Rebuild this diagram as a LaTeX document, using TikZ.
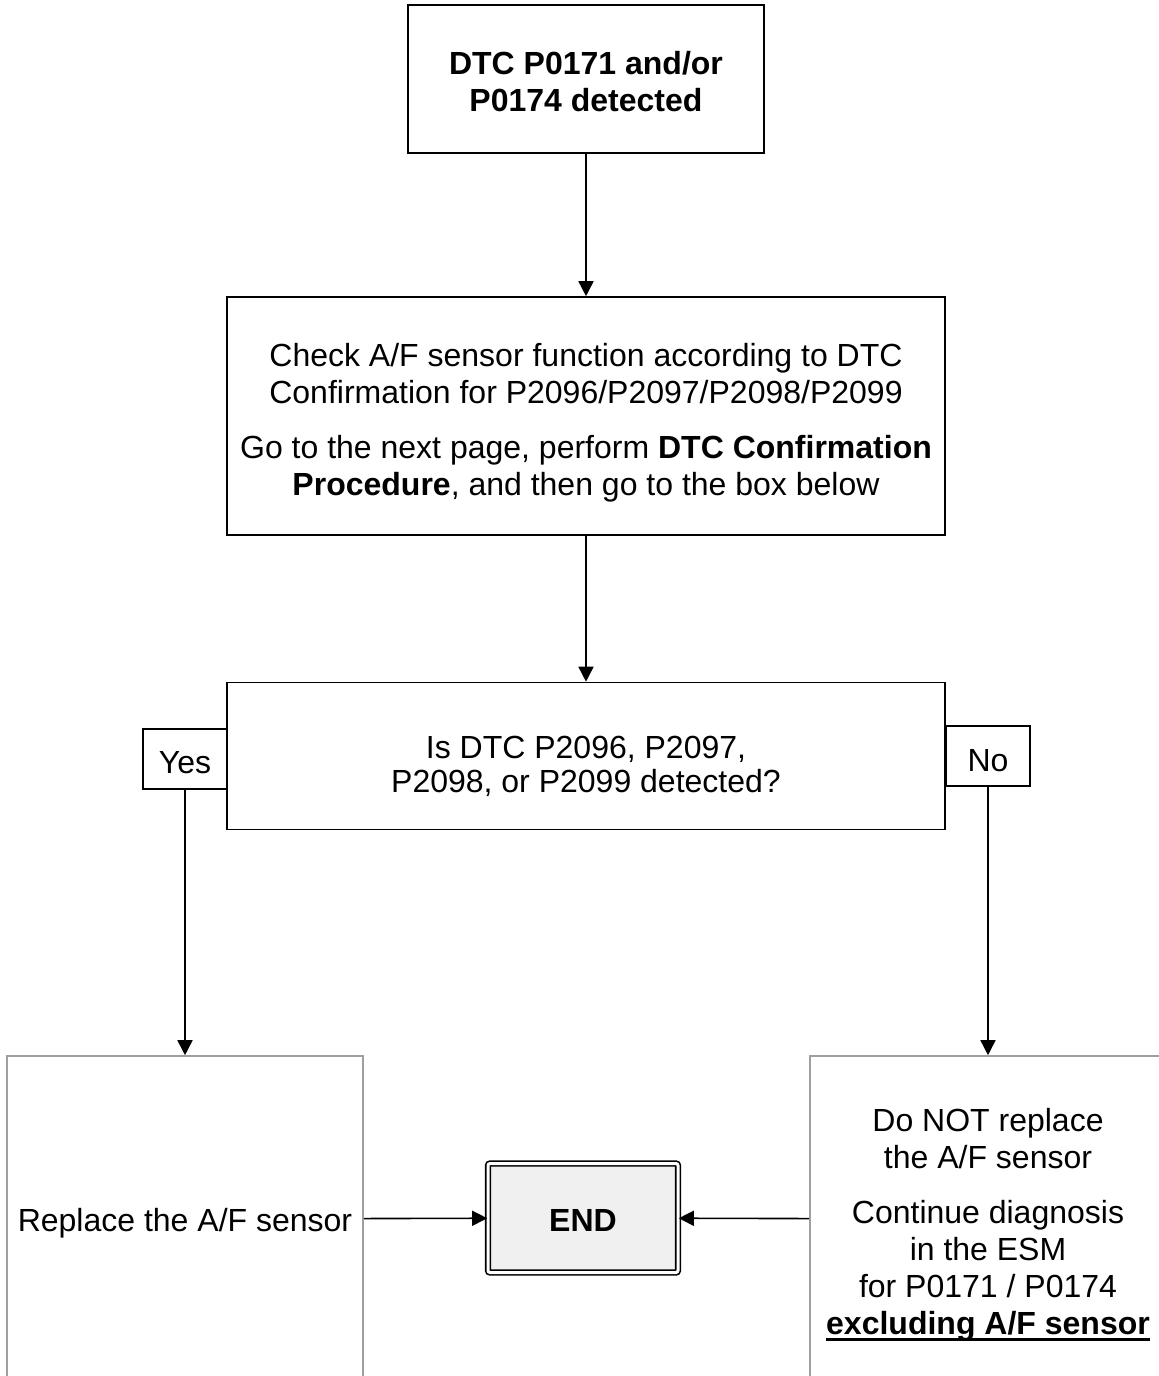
\documentclass[tikz,border=0pt]{standalone}
\usepackage{fontspec}
\setmainfont{Liberation Sans}
\usetikzlibrary{arrows.meta}
\newcommand\thickul[1]{\setbox0\hbox{#1}\rlap{\rule[-6pt]{\wd0}{2.6pt}}\box0}
\begin{document}
\begin{tikzpicture}[x=1pt,y=-1pt,
  txt/.style={font=\fontsize{32}{37}\selectfont,align=center,inner sep=0pt},
  box/.style={draw,line width=1.6pt,inner sep=0pt},
  sidebox/.style={draw=gray!75,line width=1.6pt,inner sep=0pt,minimum width=356pt,minimum height=326pt},
  tag/.style={draw,line width=1.4pt,inner sep=0pt,minimum width=84pt,minimum height=60pt},
  endbox/.style={draw,double,double distance=3pt,line width=1.6pt,fill=gray!12,rounded corners=2pt,minimum width=190pt,minimum height=109pt},
  arr/.style={line width=1.6pt,-{Triangle[length=15pt,width=15pt]}}]
\useasboundingbox (0,0) rectangle (1159,1376);
\clip (0,0) rectangle (1159,1376);
% boxes
\node[box,minimum width=356pt,minimum height=148pt] (start) at (586,79) {};
\node[box,minimum width=718pt,minimum height=238pt] (check) at (586,416) {};
\node[box,minimum width=718pt,minimum height=147pt] (ask) at (586,756) {};
\node[tag] (yes) at (185,759) {};
\node[tag] (no) at (988,756) {};
\node[sidebox] (repl) at (185,1219) {};
\node[sidebox] (keep) at (988,1219) {};
\node[endbox] (end) at (583,1218) {};
% texts
\node[txt] (starttxt) at ([yshift=-3pt]start) {\textbf{DTC P0171 and/or}\\\textbf{P0174 detected}};
\node[txt] (checktxt) at ([yshift=-7pt]check) {Check A/F sensor function according to DTC\\Confirmation for P2096/P2097/P2098/P2099\\[18pt]Go to the next page, perform \textbf{DTC Confirmation}\\\textbf{Procedure}, and then go to the box below};
\node[txt,font=\fontsize{32}{34}\selectfont] (asktxt) at ([yshift=-10pt]ask) {Is DTC P2096, P2097,\\P2098, or P2099 detected?};
\node[txt] (yestxt) at ([yshift=-4pt]yes) {Yes};
\node[txt] (notxt) at ([yshift=-5pt]no) {No};
\node[txt] (repltxt) at ([yshift=-4pt]repl) {Replace the A/F sensor};
\node[txt] (keeptxt) at ([yshift=-6pt]keep) {Do NOT replace\\the A/F sensor\\[18pt]Continue diagnosis\\in the ESM\\for P0171 / P0174\\\thickul{\textbf{excluding A/F sensor}}};
\node[txt] (endtxt) at ([yshift=-2pt]end) {\textbf{END}};
% connectors
\draw[arr] (start) -- (check);
\draw[arr] (check) -- (ask);
\draw[arr] (yes) -- (repl);
\draw[arr] (no) -- (keep);
\draw[arr] (repl) -- (end);
\draw[arr] (keep) -- (end);
\end{tikzpicture}
\end{document}
